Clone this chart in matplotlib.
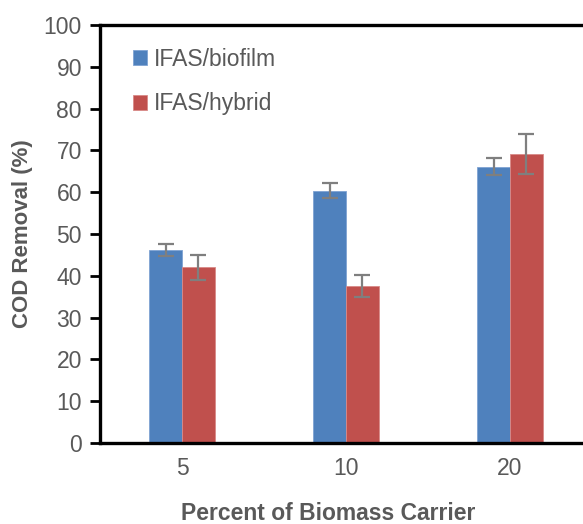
import numpy as np
import matplotlib.pyplot as plt

plt.rcParams['font.family'] = ['Liberation Sans', 'DejaVu Sans']

categories = ["5", "10", "20"]
biofilm = [46.2, 60.4, 66.1]
biofilm_err = [1.4, 1.8, 2.0]
hybrid = [42.0, 37.5, 69.1]
hybrid_err = [2.9, 2.6, 4.8]

BLUE = "#4F81BD"
RED = "#C0504D"
GREY = "#595959"

fig = plt.figure(figsize=(5.83, 5.24), dpi=100)
# right edge of axes runs past the image edge, like the original crop
ax = fig.add_axes([100 / 583, 81 / 524, 492 / 583, 418 / 524])

x = np.arange(len(categories))
w = 0.2
err_kw = dict(ecolor="#7F7F7F", elinewidth=1.6, capsize=6, capthick=1.6)
ax.bar(x - w / 2, biofilm, w, yerr=biofilm_err, color=BLUE, edgecolor="#7FA3D3",
       linewidth=0.6, label="IFAS/biofilm", error_kw=err_kw)
ax.bar(x + w / 2, hybrid, w, yerr=hybrid_err, color=RED, edgecolor="#D98A88",
       linewidth=0.6, label="IFAS/hybrid", error_kw=err_kw)

ax.set_xlim(-0.5, 2.5)
ax.set_ylim(0, 100)
ax.set_yticks(range(0, 101, 10))
ax.set_xticks(x)
ax.set_xticklabels(categories)
ax.tick_params(axis="y", direction="out", length=7, width=2, colors="black",
               labelcolor=GREY, labelsize=16.5, pad=6)
ax.tick_params(axis="x", length=0, labelcolor=GREY, labelsize=16.5, pad=10)
for s in ax.spines.values():
    s.set_linewidth(2.4)
    s.set_color("black")

ax.set_ylabel("COD Removal (%)", fontsize=16, fontweight="bold", color=GREY, labelpad=8)
fig.text(328 / 583, 1 - 514 / 524, "Percent of Biomass Carrier", fontsize=16.5,
         fontweight="bold", color=GREY, ha="center", va="center")

ax.legend(loc="upper left", bbox_to_anchor=(0.025, 0.995), frameon=False, fontsize=16.5,
          labelcolor=GREY, handlelength=0.6, handleheight=0.6, handletextpad=0.3,
          labelspacing=0.95)

fig.savefig("out.png", dpi=100)
